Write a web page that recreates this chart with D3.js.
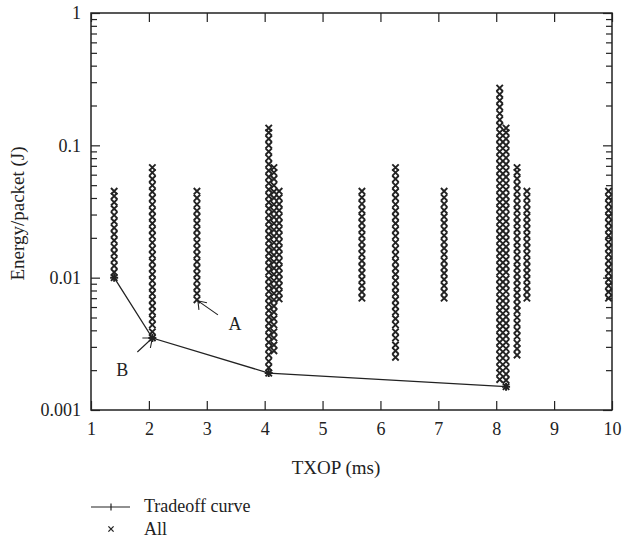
<!DOCTYPE html>
<html>
<head>
<meta charset="utf-8">
<script src="https://cdn.jsdelivr.net/npm/d3@7/dist/d3.min.js"></script>
<style>
  html, body { margin: 0; padding: 0; background: #fff; }
  svg { display: block; }
  text { font-family: "Liberation Serif", "DejaVu Serif", serif; fill: #222; }
</style>
</head>
<body>
<svg id="chart" width="622" height="543"></svg>
<script>
// ---------------- data ----------------
const xTicks = [1, 2, 3, 4, 5, 6, 7, 8, 9, 10];
const yTicks = [0.001, 0.01, 0.1, 1];
const yTickLabels = ["0.001", "0.01", "0.1", "1"];

// TXOP (ms) of each column of "All" points
const allTxop = [1.40, 2.06, 2.83, 4.07, 4.16, 4.25, 5.68, 6.26, 7.10, 8.06, 8.17, 8.36, 8.53, 9.94];
// Energy/packet (J) of the points in each column
const allEnergy = [
  [0.0100, 0.0110, 0.0123, 0.0137, 0.0153, 0.0171, 0.0191, 0.0213, 0.0238, 0.0266, 0.0297, 0.0332, 0.0371, 0.0414, 0.0450],
  [0.0035, 0.0039, 0.0044, 0.0049, 0.0055, 0.0061, 0.0068, 0.0076, 0.0085, 0.0095, 0.0106, 0.0118, 0.0132, 0.0148, 0.0165, 0.0184, 0.0206, 0.0230, 0.0257, 0.0287, 0.0320, 0.0358, 0.0400, 0.0446, 0.0498, 0.0557, 0.0622, 0.0680],
  [0.0068, 0.0076, 0.0085, 0.0095, 0.0106, 0.0118, 0.0132, 0.0148, 0.0165, 0.0184, 0.0206, 0.0230, 0.0257, 0.0287, 0.0320, 0.0358, 0.0400, 0.0450],
  [0.0019, 0.00209, 0.00233, 0.00261, 0.00291, 0.00325, 0.00363, 0.00406, 0.00453, 0.00506, 0.00565, 0.00631, 0.00705, 0.00788, 0.0088, 0.0098, 0.0110, 0.0123, 0.0137, 0.0153, 0.0171, 0.0191, 0.0213, 0.0238, 0.0266, 0.0297, 0.0332, 0.0371, 0.0414, 0.0463, 0.0517, 0.0577, 0.0645, 0.0720, 0.0804, 0.0898, 0.1003, 0.112, 0.125, 0.135],
  [0.0028, 0.0031, 0.0035, 0.0039, 0.0044, 0.0049, 0.0055, 0.0061, 0.0068, 0.0076, 0.0085, 0.0095, 0.0106, 0.0118, 0.0132, 0.0148, 0.0165, 0.0184, 0.0206, 0.0230, 0.0257, 0.0287, 0.0320, 0.0358, 0.0400, 0.0446, 0.0498, 0.0557, 0.0622, 0.0680],
  [0.0069, 0.0077, 0.0086, 0.0096, 0.0107, 0.0119, 0.0133, 0.0149, 0.0166, 0.0185, 0.0207, 0.0231, 0.0258, 0.0288, 0.0322, 0.0360, 0.0402, 0.0450],
  [0.0070, 0.0078, 0.0087, 0.0097, 0.0108, 0.0120, 0.0134, 0.0150, 0.0167, 0.0186, 0.0208, 0.0232, 0.0259, 0.0289, 0.0323, 0.0361, 0.0403, 0.0450],
  [0.0025, 0.0028, 0.0031, 0.0035, 0.0039, 0.0044, 0.0049, 0.0055, 0.0061, 0.0068, 0.0076, 0.0085, 0.0095, 0.0106, 0.0118, 0.0132, 0.0148, 0.0165, 0.0184, 0.0206, 0.0230, 0.0257, 0.0287, 0.0320, 0.0358, 0.0400, 0.0446, 0.0498, 0.0557, 0.0622, 0.0680],
  [0.0070, 0.0078, 0.0087, 0.0097, 0.0108, 0.0120, 0.0134, 0.0150, 0.0167, 0.0186, 0.0208, 0.0232, 0.0259, 0.0289, 0.0323, 0.0361, 0.0403, 0.0450],
  [0.0017, 0.0019, 0.00209, 0.00233, 0.00261, 0.00291, 0.00325, 0.00363, 0.00406, 0.00453, 0.00506, 0.00565, 0.00631, 0.00705, 0.00788, 0.0088, 0.0098, 0.0110, 0.0123, 0.0137, 0.0153, 0.0171, 0.0191, 0.0213, 0.0238, 0.0266, 0.0297, 0.0332, 0.0371, 0.0414, 0.0463, 0.0517, 0.0577, 0.0645, 0.0720, 0.0804, 0.0898, 0.1003, 0.112, 0.125, 0.140, 0.156, 0.174, 0.195, 0.218, 0.243, 0.271],
  [0.0015, 0.00168, 0.00187, 0.00209, 0.00233, 0.00261, 0.00291, 0.00325, 0.00363, 0.00406, 0.00453, 0.00506, 0.00565, 0.00631, 0.00705, 0.00788, 0.0088, 0.0098, 0.0110, 0.0123, 0.0137, 0.0153, 0.0171, 0.0191, 0.0213, 0.0238, 0.0266, 0.0297, 0.0332, 0.0371, 0.0414, 0.0463, 0.0517, 0.0577, 0.0645, 0.0720, 0.0804, 0.0898, 0.1003, 0.112, 0.125, 0.135],
  [0.0026, 0.0029, 0.0032, 0.0036, 0.0040, 0.0045, 0.0050, 0.0056, 0.0062, 0.0069, 0.0077, 0.0086, 0.0096, 0.0107, 0.0119, 0.0133, 0.0149, 0.0166, 0.0185, 0.0207, 0.0231, 0.0258, 0.0288, 0.0322, 0.0360, 0.0402, 0.0449, 0.0501, 0.0560, 0.0625, 0.0680],
  [0.0070, 0.0078, 0.0087, 0.0097, 0.0108, 0.0120, 0.0134, 0.0150, 0.0167, 0.0186, 0.0208, 0.0232, 0.0259, 0.0289, 0.0323, 0.0361, 0.0403, 0.0450],
  [0.0070, 0.0078, 0.0087, 0.0097, 0.0108, 0.0120, 0.0134, 0.0150, 0.0167, 0.0186, 0.0208, 0.0232, 0.0259, 0.0289, 0.0323, 0.0361, 0.0403, 0.0450]
];

// Tradeoff curve
const tradeoffTxop = [1.40, 2.06, 4.07, 8.17];
const tradeoffEnergy = [0.0100, 0.0035, 0.0019, 0.0015];

// annotations (pointing at data points)
const annotLabels = ["A", "B"];
const annotTxop = [2.83, 2.06];
const annotEnergy = [0.0068, 0.0035];

const legendLabels = ["Tradeoff curve", "All"];

// ---------------- layout ----------------
const L = 91, R = 612, T = 13, B = 410;
const ink = "#222";
const FONT = "'Liberation Serif', 'DejaVu Serif', serif";

const svg = d3.select("#chart");
const x = d3.scaleLinear().domain([1, 10]).range([L, R]);
const y = d3.scaleLog().domain([0.001, 1]).range([B, T]);

const fontSize = 18;

// bottom axis
svg.append("g").attr("transform", `translate(0,${B})`)
  .call(d3.axisBottom(x).tickValues(xTicks).tickFormat(d3.format("d")).tickSize(-9).tickPadding(12));
// top axis
svg.append("g").attr("transform", `translate(0,${T})`)
  .call(d3.axisTop(x).tickValues(xTicks).tickFormat("").tickSize(-9));
// left axis (major)
svg.append("g").attr("transform", `translate(${L},0)`)
  .call(d3.axisLeft(y).tickValues(yTicks).tickFormat((d, i) => yTickLabels[i]).tickSize(-9).tickPadding(10));
// minor ticks
const minor = y.ticks().filter(v => !yTicks.some(t => Math.abs(t - v) < 1e-12));
svg.append("g").attr("transform", `translate(${L},0)`)
  .call(d3.axisLeft(y).tickValues(minor).tickFormat("").tickSize(-6));
svg.append("g").attr("transform", `translate(${R},0)`)
  .call(d3.axisRight(y).tickValues(minor).tickFormat("").tickSize(-6));
svg.append("g").attr("transform", `translate(${R},0)`)
  .call(d3.axisRight(y).tickValues(yTicks).tickFormat("").tickSize(-9));

svg.selectAll(".domain").remove();
svg.selectAll("g").attr("font-family", FONT);
svg.selectAll(".tick line").attr("stroke", ink).attr("stroke-width", 1.2);
svg.selectAll(".tick text").attr("font-size", fontSize)
  .attr("font-family", FONT).attr("fill", ink);

// frame
svg.append("rect").attr("x", L).attr("y", T).attr("width", R - L).attr("height", B - T)
  .attr("fill", "none").attr("stroke", ink).attr("stroke-width", 1.5);

// axis titles
svg.append("text").attr("x", 336).attr("y", 474).attr("font-family", FONT)
  .attr("text-anchor", "middle").attr("font-size", fontSize + 1).text("TXOP (ms)");
svg.append("text").attr("transform", `translate(24,${(T + B) / 2 + 2}) rotate(-90)`)
  .attr("font-family", FONT)
  .attr("text-anchor", "middle").attr("font-size", fontSize + 1).text("Energy/packet (J)");

// "All" points
const xPath = s => `M${-s},${-s}L${s},${s}M${-s},${s}L${s},${-s}`;
const pts = [];
allTxop.forEach((t, i) => allEnergy[i].forEach(e => pts.push([t, e])));
svg.append("g").selectAll("path").data(pts).join("path")
  .attr("transform", d => `translate(${x(d[0])},${y(d[1])})`)
  .attr("d", xPath(3.2))
  .attr("fill", "none").attr("stroke", ink).attr("stroke-width", 1.9);

// tradeoff curve
const tradeoff = tradeoffTxop.map((t, i) => [t, tradeoffEnergy[i]]);
svg.append("path").datum(tradeoff)
  .attr("d", d3.line().x(d => x(d[0])).y(d => y(d[1])))
  .attr("fill", "none").attr("stroke", ink).attr("stroke-width", 1.3);
svg.append("g").selectAll("path").data(tradeoff).join("path")
  .attr("transform", d => `translate(${x(d[0])},${y(d[1])})`)
  .attr("d", "M-4,0L4,0M0,-4L0,4")
  .attr("fill", "none").attr("stroke", ink).attr("stroke-width", 2);

// annotations
const annotCfg = [
  { start: [20, 14], wings: [[9, 2], [1, 9]], text: [37, 29], tip: [1, 1] },
  { start: [-15, 14], wings: [[-10, 0], [-2, 10]], text: [-30, 38], tip: [0, 0] }
];
annotLabels.forEach((lab, i) => {
  const c = annotCfg[i];
  const tx = x(annotTxop[i]) + c.tip[0], ty = y(annotEnergy[i]) + c.tip[1];
  const g = svg.append("g");
  g.append("path")
    .attr("d", `M${tx + c.start[0]},${ty + c.start[1]}L${tx},${ty}` +
      `M${tx + c.wings[0][0]},${ty + c.wings[0][1]}L${tx},${ty}L${tx + c.wings[1][0]},${ty + c.wings[1][1]}`)
    .attr("fill", "none").attr("stroke", ink).attr("stroke-width", 1.1);
  g.append("text").attr("x", tx + c.text[0]).attr("y", ty + c.text[1]).attr("font-family", FONT)
    .attr("text-anchor", "middle").attr("font-size", fontSize).text(lab);
});

// legend
const lg = svg.append("g");
lg.append("line").attr("x1", 91).attr("x2", 130).attr("y1", 507).attr("y2", 507)
  .attr("stroke", ink).attr("stroke-width", 1.2);
lg.append("line").attr("x1", 111).attr("x2", 111).attr("y1", 503.5).attr("y2", 510.5)
  .attr("stroke", ink).attr("stroke-width", 1.2);
lg.append("path").attr("transform", "translate(111,529)").attr("d", xPath(2.6))
  .attr("fill", "none").attr("stroke", ink).attr("stroke-width", 1.3);
legendLabels.forEach((t, i) => {
  lg.append("text").attr("x", 144).attr("y", 512 + i * 23).attr("font-family", FONT)
    .attr("font-size", fontSize).text(t);
});
</script>
</body>
</html>
